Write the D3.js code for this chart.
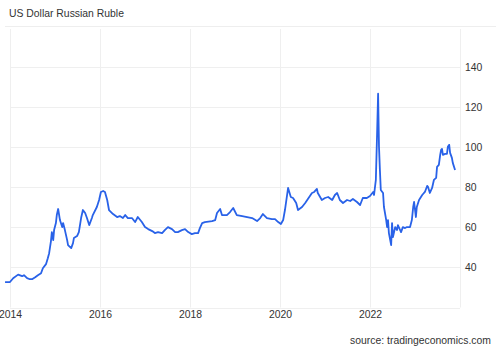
<!DOCTYPE html>
<html>
<head>
<meta charset="utf-8">
<script src="https://cdn.jsdelivr.net/npm/d3@7"></script>
<style>
  body { margin: 0; background: #fff; }
  svg { display: block; font-family: "Liberation Sans", Arial, sans-serif; }
</style>
</head>
<body>
<svg id="chart" width="501" height="348"></svg>
<script>
// USD/RUB (decimal year, rate)
const years = [
  2013.89, 2014.00, 2014.07, 2014.18, 2014.27, 2014.31, 2014.38, 2014.44, 2014.49, 2014.56,
  2014.62, 2014.69, 2014.73, 2014.80, 2014.84, 2014.87, 2014.89, 2014.91, 2014.93, 2014.96,
  2014.98, 2015.02, 2015.04, 2015.07, 2015.11, 2015.16, 2015.18, 2015.22, 2015.27, 2015.29,
  2015.36, 2015.40, 2015.42, 2015.49, 2015.53, 2015.58, 2015.62, 2015.67, 2015.71, 2015.76,
  2015.82, 2015.84, 2015.93, 2015.98, 2016.02, 2016.07, 2016.11, 2016.16, 2016.20, 2016.29,
  2016.38, 2016.44, 2016.51, 2016.56, 2016.62, 2016.71, 2016.78, 2016.84, 2016.93, 2017.00,
  2017.07, 2017.16, 2017.22, 2017.29, 2017.38, 2017.44, 2017.51, 2017.60, 2017.67, 2017.73,
  2017.82, 2017.89, 2017.96, 2018.04, 2018.11, 2018.18, 2018.22, 2018.27, 2018.33, 2018.49,
  2018.56, 2018.60, 2018.67, 2018.71, 2018.82, 2018.89, 2018.96, 2019.04, 2019.16, 2019.27,
  2019.38, 2019.49, 2019.56, 2019.62, 2019.71, 2019.82, 2019.89, 2019.96, 2020.02, 2020.07,
  2020.11, 2020.18, 2020.24, 2020.29, 2020.36, 2020.40, 2020.49, 2020.56, 2020.62, 2020.71,
  2020.76, 2020.82, 2020.84, 2020.93, 2021.00, 2021.07, 2021.16, 2021.22, 2021.27, 2021.33,
  2021.40, 2021.49, 2021.56, 2021.62, 2021.71, 2021.78, 2021.84, 2021.93, 2022.00, 2022.07,
  2022.09, 2022.13, 2022.16, 2022.18, 2022.20, 2022.22, 2022.24, 2022.29, 2022.31, 2022.36,
  2022.38, 2022.40, 2022.42, 2022.47, 2022.49, 2022.51, 2022.56, 2022.60, 2022.62, 2022.69,
  2022.73, 2022.78, 2022.82, 2022.89, 2022.93, 2022.96, 2022.98, 2023.02, 2023.04, 2023.09,
  2023.16, 2023.22, 2023.27, 2023.29, 2023.33, 2023.38, 2023.42, 2023.47, 2023.49, 2023.53,
  2023.56, 2023.58, 2023.60, 2023.62, 2023.67, 2023.71, 2023.73, 2023.76, 2023.78, 2023.82,
  2023.84, 2023.89
];
const rates = [
  32.7, 32.7, 34.6, 36.4, 35.6, 36.1, 34.6, 34.1, 34.1, 35.1,
  36.1, 37.1, 39.6, 41.6, 44.6, 47.1, 50.1, 53.1, 57.6, 53.6,
  58.6, 62.1, 66.1, 69.1, 63.6, 60.1, 62.1, 58.6, 53.6, 51.1,
  49.6, 52.1, 54.6, 55.6, 57.6, 64.6, 68.6, 67.1, 64.6, 61.1,
  64.6, 66.1, 70.1, 73.6, 77.6, 78.1, 77.6, 73.6, 68.6, 66.6,
  65.1, 65.6, 64.6, 66.1, 64.6, 64.6, 62.6, 65.1, 62.6, 60.1,
  59.1, 58.1, 57.1, 57.6, 57.1, 58.6, 60.1, 59.1, 57.6, 57.6,
  58.6, 59.1, 57.6, 56.6, 57.1, 57.1, 59.6, 62.1, 62.6, 63.1,
  63.6, 67.1, 69.1, 66.1, 66.1, 67.6, 69.6, 66.1, 65.6, 65.1,
  64.6, 63.1, 64.6, 66.6, 64.6, 64.1, 64.1, 62.6, 61.6, 63.6,
  68.6, 79.6, 75.1, 74.6, 72.1, 68.6, 70.1, 72.1, 74.1, 77.1,
  77.6, 79.1, 77.1, 73.6, 74.6, 75.1, 73.6, 76.1, 77.1, 73.6,
  72.1, 73.6, 73.1, 74.1, 72.6, 71.1, 74.6, 74.6, 75.6, 77.6,
  76.1, 83.6, 108.6, 126.6, 100.1, 88.6, 78.6, 77.1, 70.1, 63.6,
  60.1, 63.6, 57.1, 51.1, 62.1, 55.1, 60.1, 58.6, 61.1, 57.6,
  60.1, 59.6, 60.1, 60.1, 63.6, 70.1, 72.6, 65.1, 70.1, 73.6,
  76.1, 77.6, 80.6, 80.1, 77.1, 79.6, 83.6, 84.6, 90.1, 91.1,
  96.1, 98.6, 99.1, 96.1, 96.6, 96.6, 100.1, 101.1, 97.1, 94.6,
  92.1, 88.6
];
const xTicks = [2014, 2016, 2018, 2020, 2022];
const yTicks = [40, 60, 80, 100, 120, 140];
const title = "US Dollar Russian Ruble";
const source = "source: tradingeconomics.com";

const svg = d3.select("#chart");
const data = years.map((t, i) => ({t: t, v: rates[i]}));

const x = d3.scaleLinear().domain([2014, 2024]).range([10, 460]);
const y = d3.scaleLinear().domain([20, 160]).range([307.5, 26.7]);

// title + separator
svg.append("text").attr("x", 9).attr("y", 17)
  .attr("font-size", 10.4).attr("fill", "#333").text(title);
svg.append("line").attr("x1", 5).attr("x2", 496).attr("y1", 26.5).attr("y2", 26.5)
  .attr("stroke", "#eeeeee");

// grid
const grid = svg.append("g").attr("stroke", "#efefef").attr("stroke-width", 1);
grid.selectAll("line.h").data([20].concat(yTicks)).enter().append("line")
  .attr("x1", 10).attr("x2", 460)
  .attr("y1", d => Math.round(y(d)) + 0.5).attr("y2", d => Math.round(y(d)) + 0.5);
grid.selectAll("line.v").data(xTicks.concat([2024])).enter().append("line")
  .attr("x1", d => Math.round(x(d)) + 0.5).attr("x2", d => Math.round(x(d)) + 0.5)
  .attr("y1", 29).attr("y2", y(20));

// axes (labels only)
const yAxis = d3.axisRight(y).tickValues(yTicks).tickSize(0).tickPadding(0);
const ya = svg.append("g").attr("transform", "translate(465,0)").call(yAxis);
const xAxis = d3.axisBottom(x).tickValues(xTicks).tickFormat(d3.format("d")).tickSize(0).tickPadding(0);
const xa = svg.append("g").attr("transform", "translate(0,311)").call(xAxis);
[ya, xa].forEach(a => {
  a.select(".domain").remove();
  a.selectAll("text").attr("fill", "#333").attr("font-size", 10.4)
    .attr("font-family", "Liberation Sans, Arial, sans-serif");
});

// line
const line = d3.line().x(d => x(d.t)).y(d => y(d.v));
svg.append("path").datum(data)
  .attr("fill", "none").attr("stroke", "#2962e8").attr("stroke-width", 1.8)
  .attr("stroke-linejoin", "round").attr("d", line);

svg.append("text").attr("x", 491).attr("y", 344).attr("text-anchor", "end")
  .attr("font-size", 10.4).attr("fill", "#333").text(source);
</script>
</body>
</html>
